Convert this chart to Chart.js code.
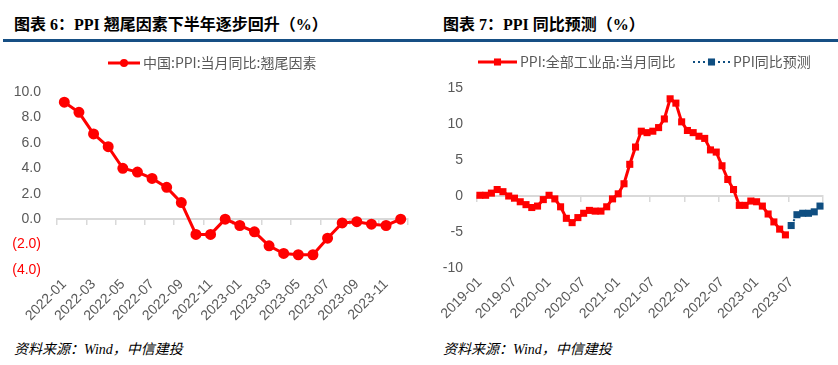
<!DOCTYPE html>
<html>
<head>
<meta charset="utf-8">
<script src="https://cdn.jsdelivr.net/npm/chart.js@4/dist/chart.umd.min.js"></script>
<style>
  body { margin: 0; width: 838px; height: 365px; background: #fff; position: relative; overflow: hidden; }
  .title { position: absolute; top: 15px; line-height: 20px; font: bold 16px/20px "Liberation Serif", "Noto Sans CJK SC", serif; color: #000; white-space: nowrap; }
  .rule { position: absolute; left: 3px; right: 0; top: 39px; height: 3px; background: #164f84; }
  .src { position: absolute; top: 340px; font: italic 14px/20px "Liberation Serif", "Noto Sans CJK SC", serif; color: #000; white-space: nowrap; }
  canvas { position: absolute; }
</style>
</head>
<body>
<div class="title" style="left:14px">图表 6：PPI 翘尾因素下半年逐步回升（%）</div>
<div class="title" style="left:443px">图表 7：PPI 同比预测（%）</div>
<div class="rule"></div>
<canvas id="left-chart" width="420" height="284" style="left:0;top:46px"></canvas>
<canvas id="right-chart" width="418" height="282" style="left:420px;top:46px"></canvas>
<div class="src" style="left:14px">资料来源：Wind，中信建投</div>
<div class="src" style="left:443px">资料来源：Wind，中信建投</div>
<script>
// left chart: carry-over factor
const tailMonths = [
  "2022-01", "2022-02", "2022-03", "2022-04", "2022-05", "2022-06",
  "2022-07", "2022-08", "2022-09", "2022-10", "2022-11", "2022-12",
  "2023-01", "2023-02", "2023-03", "2023-04", "2023-05", "2023-06",
  "2023-07", "2023-08", "2023-09", "2023-10", "2023-11", "2023-12",
];
const tailFactor = [
  9.2, 8.4, 6.7, 5.7, 4.0, 3.7, 3.2, 2.5, 1.3, -1.2, -1.2, 0.0,
  -0.5, -1.0, -2.1, -2.7, -2.8, -2.8, -1.5, -0.3, -0.2, -0.4, -0.5, 0.0,
];
const tailTickLabels = [
  "2022-01", "2022-03", "2022-05", "2022-07", "2022-09", "2022-11",
  "2023-01", "2023-03", "2023-05", "2023-07", "2023-09", "2023-11",
];

// right chart: PPI yoy and forecast
const ppiMonths = [
  "2019-01", "2019-02", "2019-03", "2019-04", "2019-05", "2019-06", "2019-07", "2019-08", "2019-09", "2019-10", "2019-11", "2019-12",
  "2020-01", "2020-02", "2020-03", "2020-04", "2020-05", "2020-06", "2020-07", "2020-08", "2020-09", "2020-10", "2020-11", "2020-12",
  "2021-01", "2021-02", "2021-03", "2021-04", "2021-05", "2021-06", "2021-07", "2021-08", "2021-09", "2021-10", "2021-11", "2021-12",
  "2022-01", "2022-02", "2022-03", "2022-04", "2022-05", "2022-06", "2022-07", "2022-08", "2022-09", "2022-10", "2022-11", "2022-12",
  "2023-01", "2023-02", "2023-03", "2023-04", "2023-05", "2023-06", "2023-07", "2023-08", "2023-09", "2023-10", "2023-11", "2023-12",
];
const ppiActual = [
  0.1, 0.1, 0.4, 0.9, 0.6, 0.0, -0.3, -0.8, -1.2, -1.6, -1.4, -0.5,
  0.1, -0.4, -1.5, -3.1, -3.7, -3.0, -2.4, -2.0, -2.1, -2.1, -1.5, -0.4,
  0.3, 1.7, 4.4, 6.8, 9.0, 8.8, 9.0, 9.5, 10.7, 13.5, 12.9, 10.3,
  9.1, 8.8, 8.3, 8.0, 6.4, 6.1, 4.2, 2.3, 0.9, -1.3, -1.3, -0.7,
  -0.8, -1.4, -2.5, -3.6, -4.6, -5.4, null, null, null, null, null, null,
];
const ppiForecast = [
  null, null, null, null, null, null, null, null, null, null, null, null,
  null, null, null, null, null, null, null, null, null, null, null, null,
  null, null, null, null, null, null, null, null, null, null, null, null,
  null, null, null, null, null, null, null, null, null, null, null, null,
  null, null, null, null, null, null, -4.1, -2.6, -2.4, -2.4, -2.2, -1.4,
];
const ppiTickLabels = [
  "2019-01", "2019-07", "2020-01", "2020-07", "2021-01",
  "2021-07", "2022-01", "2022-07", "2023-01", "2023-07",
];

const RED = "#ff0000";
const BLUE = "#0f4e81";
const GREY_TEXT = "#595959";
const AXIS_GREY = "#d9d9d9";
const TICK_FONT = { family: "'Liberation Sans', Arial, sans-serif", size: 14 };

// legend with line + marker, like the office chart legend
const lineLegend = {
  id: "lineLegend",
  afterDraw(chart, args, opts) {
    const ctx = chart.ctx;
    ctx.save();
    for (const item of opts.items) {
      const ds = chart.data.datasets[item.dataset];
      const y = item.y;
      ctx.strokeStyle = ds.borderColor;
      ctx.lineWidth = ds.borderWidth;
      ctx.setLineDash(ds.borderDash || []);
      ctx.beginPath();
      ctx.moveTo(item.x, y);
      ctx.lineTo(item.x + item.w, y);
      ctx.stroke();
      ctx.setLineDash([]);
      const cx = item.x + item.w / 2;
      ctx.fillStyle = ds.pointBackgroundColor;
      ctx.beginPath();
      if (ds.pointStyle === "rect") {
        const s = ds.pointRadius * Math.SQRT1_2;
        ctx.rect(cx - s, y - s, s * 2, s * 2);
      } else {
        ctx.arc(cx, y, ds.pointRadius, 0, Math.PI * 2);
      }
      ctx.fill();
      ctx.font = "14px 'Noto Sans CJK SC', sans-serif";
      ctx.fillStyle = GREY_TEXT;
      ctx.textBaseline = "middle";
      ctx.fillText(ds.label, item.x + item.w + 3, y);
    }
    ctx.restore();
  },
};

function zeroAxis(every) {
  const tickColor = (c) => (c.index === undefined || c.index % every === 0 ? AXIS_GREY : "rgba(0,0,0,0)");
  return {
    type: "category",
    axis: "x",
    position: { y: 0 },
    offset: true,
    grid: { drawOnChartArea: false, offset: true, tickLength: 5, lineWidth: 1.5, color: tickColor, tickColor },
    border: { color: AXIS_GREY, width: 2 },
    ticks: { display: false, autoSkip: false },
  };
}

function labelAxis(shown) {
  return {
    type: "category",
    offset: true,
    grid: { display: false, drawTicks: false },
    border: { display: false },
    ticks: {
      autoSkip: false,
      minRotation: 45,
      maxRotation: 45,
      padding: 6,
      color: GREY_TEXT,
      font: TICK_FONT,
      callback(value) {
        const label = this.getLabelForValue(value);
        return shown.includes(label) ? label : "";
      },
    },
    afterFit(scale) {
      scale.height = 60;
    },
  };
}

new Chart(document.getElementById("left-chart"), {
  type: "line",
  data: {
    labels: tailMonths,
    datasets: [
      {
        label: "中国:PPI:当月同比:翘尾因素",
        data: tailFactor,
        borderColor: RED,
        backgroundColor: RED,
        pointBackgroundColor: RED,
        pointBorderColor: RED,
        borderWidth: 3,
        pointStyle: "circle",
        pointRadius: 4,
        tension: 0,
      },
    ],
  },
  options: {
    responsive: false,
    animation: false,
    layout: { padding: { top: 46, right: 12, left: 0, bottom: 0 } },
    plugins: {
      legend: { display: false },
      tooltip: { enabled: false },
      lineLegend: { items: [{ dataset: 0, x: 108, w: 32, y: 17 }] },
    },
    scales: {
      x: labelAxis(tailTickLabels),
      xZero: zeroAxis(2),
      y: {
        min: -4,
        max: 10,
        grid: { display: false, drawTicks: false },
        border: { display: false },
        ticks: {
          stepSize: 2,
          padding: 16,
          font: TICK_FONT,
          color: (c) => (c.tick && c.tick.value < 0 ? RED : GREY_TEXT),
          callback(value) {
            return value < 0 ? `(${Math.abs(value).toFixed(1)})` : Number(value).toFixed(1);
          },
        },
        afterFit(scale) {
          scale.width = 57;
        },
      },
    },
  },
  plugins: [lineLegend],
});

new Chart(document.getElementById("right-chart"), {
  type: "line",
  data: {
    labels: ppiMonths,
    datasets: [
      {
        label: "PPI:全部工业品:当月同比",
        data: ppiActual,
        borderColor: RED,
        backgroundColor: RED,
        pointBackgroundColor: RED,
        pointBorderColor: RED,
        borderWidth: 3,
        pointStyle: "rect",
        pointRadius: 5,
        pointBorderWidth: 0,
        spanGaps: false,
      },
      {
        label: "PPI同比预测",
        data: ppiForecast,
        borderColor: BLUE,
        backgroundColor: BLUE,
        pointBackgroundColor: BLUE,
        pointBorderColor: BLUE,
        borderWidth: 2,
        borderDash: [2, 3],
        pointStyle: "rect",
        pointRadius: 5,
        pointBorderWidth: 0,
        spanGaps: false,
      },
    ],
  },
  options: {
    responsive: false,
    animation: false,
    layout: { padding: { top: 42, right: 14, left: 0, bottom: 0 } },
    plugins: {
      legend: { display: false },
      tooltip: { enabled: false },
      lineLegend: {
        items: [
          { dataset: 0, x: 58, w: 39, y: 16 },
          { dataset: 1, x: 273, w: 37, y: 16 },
        ],
      },
    },
    scales: {
      x: labelAxis(ppiTickLabels),
      xZero: zeroAxis(6),
      y: {
        min: -10,
        max: 15,
        grid: { display: false, drawTicks: false },
        border: { display: false },
        ticks: {
          stepSize: 5,
          padding: 14,
          font: TICK_FONT,
          color: GREY_TEXT,
        },
        afterFit(scale) {
          scale.width = 57;
        },
      },
    },
  },
  plugins: [lineLegend],
});
</script>
</body>
</html>
